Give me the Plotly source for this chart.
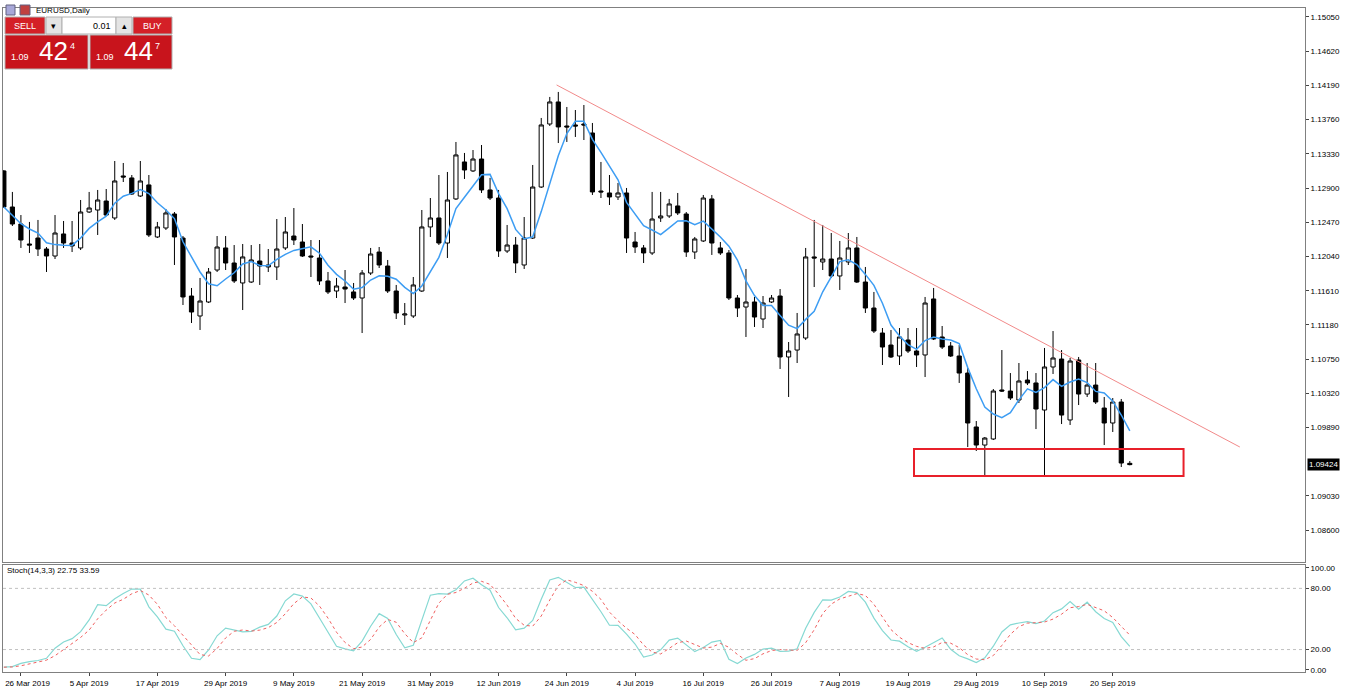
import numpy as np
import pandas as pd
import plotly.graph_objects as go

# ---- data (EURUSD daily) ----
start_date = "2019-03-22"
opens = [1.13115, 1.12662, 1.12448, 1.12197, 1.12272, 1.12134, 1.12046, 1.12323, 1.12209, 1.12147,
         1.12599, 1.12624, 1.12737, 1.12524, 1.13052, 1.13027, 1.12800, 1.12939, 1.12285, 1.12398,
         1.12574, 1.12272, 1.11543, 1.11292, 1.11468, 1.11870, 1.12147, 1.11958, 1.11707, 1.11719,
         1.11983, 1.11908, 1.11908, 1.12147, 1.12297, 1.12222, 1.12046, 1.12021, 1.11732, 1.11606,
         1.11656, 1.11594, 1.11518, 1.11832, 1.12096, 1.11920, 1.11606, 1.11304, 1.11292, 1.11606,
         1.12411, 1.12524, 1.12209, 1.12763, 1.13228, 1.13115, 1.13265, 1.12876, 1.12775, 1.12109,
         1.12184, 1.11933, 1.12272, 1.12913, 1.13705, 1.13982, 1.13680, 1.13693, 1.13705, 1.13592,
         1.12863, 1.12838, 1.12788, 1.12838, 1.12222, 1.12147, 1.12084, 1.12524, 1.12549, 1.12675,
         1.12574, 1.12096, 1.12235, 1.12763, 1.12147, 1.12084, 1.11518, 1.11405, 1.11468, 1.11254,
         1.11468, 1.11543, 1.10777, 1.10864, 1.11015, 1.12034, 1.11971, 1.12008, 1.11795, 1.11971,
         1.12147, 1.11719, 1.11392, 1.11078, 1.10927, 1.10789, 1.10990, 1.10852, 1.10802, 1.11506,
         1.11028, 1.10915, 1.10789, 1.10575, 1.09897, 1.09670, 1.09746, 1.10362, 1.10349, 1.10236,
         1.10487, 1.10450, 1.10110, 1.10651, 1.10751, 1.09985, 1.10739, 1.10311, 1.10424, 1.10135,
         1.09947, 1.10211, 1.09440]
highs = [1.13127, 1.12851, 1.12561, 1.12474, 1.12499, 1.12159, 1.12561, 1.12486, 1.12486, 1.12750,
         1.12851, 1.12876, 1.12888, 1.13240, 1.13215, 1.13064, 1.13240, 1.13064, 1.12474, 1.12637,
         1.12599, 1.12297, 1.11644, 1.11770, 1.11895, 1.12297, 1.12297, 1.12184, 1.12197, 1.12184,
         1.12197, 1.12134, 1.12511, 1.12536, 1.12649, 1.12448, 1.12247, 1.12247, 1.11845, 1.11770,
         1.11870, 1.11707, 1.11870, 1.12147, 1.12159, 1.11996, 1.11682, 1.11455, 1.11782, 1.12624,
         1.12775, 1.13064, 1.13102, 1.13479, 1.13341, 1.13378, 1.13441, 1.13027, 1.12876, 1.12436,
         1.12285, 1.12536, 1.13190, 1.13781, 1.14045, 1.14108, 1.13919, 1.13881, 1.13944, 1.13718,
         1.13228, 1.13064, 1.12964, 1.12901, 1.12348, 1.12184, 1.12851, 1.12851, 1.12763, 1.12838,
         1.12599, 1.12285, 1.12813, 1.12813, 1.12222, 1.12121, 1.11556, 1.11883, 1.11531, 1.11543,
         1.11556, 1.11631, 1.10965, 1.11330, 1.12147, 1.12499, 1.12436, 1.12335, 1.12235, 1.12335,
         1.12285, 1.11908, 1.11594, 1.11141, 1.11116, 1.11141, 1.11141, 1.11141, 1.11531, 1.11644,
         1.11166, 1.10965, 1.10927, 1.10638, 1.09972, 1.09771, 1.10374, 1.10864, 1.10575, 1.10701,
         1.10600, 1.10575, 1.10890, 1.11103, 1.10864, 1.10764, 1.10777, 1.10701, 1.10701, 1.10274,
         1.10261, 1.10249, 1.09469]
lows = [1.12649, 1.12423, 1.12147, 1.12084, 1.12046, 1.11845, 1.12008, 1.12147, 1.12096, 1.12121,
        1.12587, 1.12310, 1.12549, 1.12499, 1.12976, 1.12813, 1.12788, 1.12285, 1.12272, 1.12373,
        1.11933, 1.11430, 1.11204, 1.11116, 1.11455, 1.11845, 1.11870, 1.11707, 1.11367, 1.11707,
        1.11682, 1.11845, 1.11744, 1.12121, 1.12184, 1.12034, 1.11782, 1.11682, 1.11568, 1.11518,
        1.11455, 1.11493, 1.11078, 1.11807, 1.11895, 1.11581, 1.11254, 1.11179, 1.11267, 1.11594,
        1.12285, 1.12184, 1.12021, 1.12750, 1.13014, 1.13102, 1.12838, 1.12750, 1.12034, 1.12084,
        1.11832, 1.11883, 1.12260, 1.12901, 1.13680, 1.13466, 1.13479, 1.13542, 1.13504, 1.12813,
        1.12775, 1.12687, 1.12750, 1.12084, 1.12084, 1.11958, 1.12059, 1.12474, 1.12524, 1.12561,
        1.12034, 1.12008, 1.12222, 1.12059, 1.12059, 1.11493, 1.11279, 1.11028, 1.11154, 1.11141,
        1.11455, 1.10626, 1.10274, 1.10701, 1.10990, 1.11656, 1.11870, 1.11770, 1.11619, 1.11933,
        1.11707, 1.11330, 1.11078, 1.10676, 1.10764, 1.10676, 1.10827, 1.10651, 1.10525, 1.10990,
        1.10877, 1.10777, 1.10450, 1.09645, 1.09595, 1.09268, 1.09733, 1.10337, 1.10236, 1.10198,
        1.10424, 1.09871, 1.09268, 1.10563, 1.09934, 1.09922, 1.10173, 1.10274, 1.10186, 1.09670,
        1.09834, 1.09394, 1.09415]
closes = [1.12662, 1.12448, 1.12247, 1.12184, 1.12134, 1.12046, 1.12335, 1.12209, 1.12172, 1.12599,
          1.12649, 1.12750, 1.12561, 1.12989, 1.13039, 1.12825, 1.12989, 1.12310, 1.12411, 1.12587,
          1.12285, 1.11531, 1.11342, 1.11480, 1.11845, 1.12159, 1.11958, 1.11732, 1.12034, 1.11996,
          1.11920, 1.11933, 1.12134, 1.12348, 1.12247, 1.12046, 1.12034, 1.11732, 1.11594, 1.11669,
          1.11631, 1.11518, 1.11832, 1.12071, 1.11933, 1.11606, 1.11330, 1.11317, 1.11682, 1.12411,
          1.12524, 1.12209, 1.12750, 1.13316, 1.13127, 1.13265, 1.12876, 1.12775, 1.12109, 1.12184,
          1.11958, 1.12272, 1.12913, 1.13693, 1.13982, 1.13668, 1.13668, 1.13680, 1.13693, 1.12851,
          1.12851, 1.12788, 1.12838, 1.12272, 1.12159, 1.12084, 1.12511, 1.12549, 1.12700, 1.12587,
          1.12096, 1.12260, 1.12775, 1.12209, 1.12084, 1.11518, 1.11392, 1.11468, 1.11279, 1.11455,
          1.11518, 1.10777, 1.10852, 1.11066, 1.12034, 1.12021, 1.12008, 1.11795, 1.12021, 1.12147,
          1.11719, 1.11392, 1.11103, 1.10902, 1.10777, 1.11028, 1.10852, 1.10802, 1.11455, 1.11003,
          1.10902, 1.10789, 1.10575, 1.09947, 1.09670, 1.09758, 1.10349, 1.10349, 1.10261, 1.10475,
          1.10450, 1.10123, 1.10651, 1.10764, 1.10047, 1.10726, 1.10311, 1.10424, 1.10211, 1.09947,
          1.10211, 1.09444, 1.09424]

price_ticks = [1.15050, 1.14620, 1.14190, 1.13760, 1.13330, 1.12900, 1.12470, 1.12040,
               1.11610, 1.11180, 1.10750, 1.10320, 1.09890, 1.09030, 1.08600]
stoch_ticks = [100, 80, 20, 0]
last_price = 1.09424
trend_start = (64.8, 1.14196)
trend_end = (144.9, 1.09645)
support_box = (106.7, 138.3, 1.09281, 1.09620)

# ---- derived series ----
df = pd.DataFrame({"open": opens, "high": highs, "low": lows, "close": closes})
df["date"] = pd.bdate_range(start_date, periods=len(df))
idx = np.arange(len(df))
ma = df["close"].rolling(5, min_periods=1).mean()
ll = df["low"].rolling(14, min_periods=1).min()
hh = df["high"].rolling(14, min_periods=1).max()
k = 100 * (df["close"] - ll).rolling(3, min_periods=1).sum() / (hh - ll).rolling(3, min_periods=1).sum()
d = k.rolling(3, min_periods=1).mean()

tick_idx = list(range(2, len(df), 8))
tick_txt = [df["date"][i].strftime("%-d %b %Y") for i in tick_idx]
tick_txt[0] = "\u2007\u2007\u2007" + tick_txt[0]  # first label sits against the left edge

W, H = 1347, 690
ML, MR, MT, MB = 3, 42, 8, 18
PW, PH = W - ML - MR, H - MT - MB


def px(x):
    return (x - ML) / PW


def py(y):
    return (H - MB - y) / PH


fig = go.Figure()
fig.add_trace(go.Candlestick(
    x=idx, open=df["open"], high=df["high"], low=df["low"], close=df["close"],
    increasing=dict(line=dict(color="#000000", width=1), fillcolor="#ffffff"),
    decreasing=dict(line=dict(color="#000000", width=1), fillcolor="#000000"),
    whiskerwidth=0, showlegend=False, xaxis="x", yaxis="y", hoverinfo="skip",
))
fig.add_trace(go.Scatter(x=idx, y=ma, mode="lines", line=dict(color="#3d9df3", width=1.5),
                         showlegend=False, xaxis="x", yaxis="y"))
fig.add_trace(go.Scatter(x=idx, y=k, mode="lines", line=dict(color="#86d9d3", width=1.2),
                         showlegend=False, xaxis="x2", yaxis="y2"))
fig.add_trace(go.Scatter(x=idx, y=d, mode="lines", line=dict(color="#f06060", width=1, dash="dot"),
                         showlegend=False, xaxis="x2", yaxis="y2"))

xr = [-0.1, PW / 8.53 - 0.1]
axfont = dict(family="Liberation Sans", size=8, color="#000000")
fig.update_layout(
    width=W, height=H, paper_bgcolor="white", plot_bgcolor="white",
    margin=dict(l=ML, r=MR, t=MT, b=MB, autoexpand=False),
    xaxis=dict(domain=[0, 1], range=xr, showticklabels=False, showgrid=False, zeroline=False,
               automargin=False, showline=True, mirror=True, linecolor="#808080",
               rangeslider=dict(visible=False)),
    yaxis=dict(domain=[(672 - 562) / PH, 1], range=[1.08200, 1.15163], side="right",
               tickvals=price_ticks, tickformat=".5f", ticks="outside", ticklen=3,
               tickfont=axfont, showgrid=False, zeroline=False, automargin=False,
               showline=True, mirror=True, linecolor="#808080"),
    xaxis2=dict(domain=[0, 1], range=xr, anchor="y2", tickvals=tick_idx, ticktext=tick_txt,
                ticks="outside", ticklen=3, tickfont=axfont, showgrid=False, zeroline=False,
                ticklabeloverflow="allow", automargin=False,
                showline=True, mirror=True, linecolor="#808080"),
    yaxis2=dict(domain=[0, (672 - 565) / PH], range=[-2.0, 102.9], side="right", anchor="x2",
                tickvals=stoch_ticks, tickformat=".2f", ticks="outside", ticklen=3,
                tickfont=axfont, showgrid=False, zeroline=False, automargin=False,
                showline=True, mirror=True, linecolor="#808080"),
)

# stochastic levels
for lvl in (80, 20):
    fig.add_shape(type="line", xref="x2 domain", yref="y2", x0=0, x1=1, y0=lvl, y1=lvl,
                  line=dict(color="#c0c0c0", width=1, dash="dot"))
# trend line and support box
fig.add_shape(type="line", xref="x", yref="y", x0=trend_start[0], y0=trend_start[1],
              x1=trend_end[0], y1=trend_end[1], line=dict(color="#f28a8a", width=1))
fig.add_shape(type="rect", xref="x", yref="y", x0=support_box[0], x1=support_box[1],
              y0=support_box[2], y1=support_box[3], line=dict(color="#e8202a", width=2))

# current price tag
fig.add_annotation(xref="paper", yref="y", x=1.0, y=last_price, xanchor="left", yanchor="middle",
                   text=f"{last_price:.5f}", showarrow=False, bgcolor="#000000",
                   font=dict(family="Liberation Sans", size=8, color="white"), borderpad=1, xshift=2)


def label(x, y, text, size, color, xanchor="center", family="Liberation Sans"):
    fig.add_annotation(xref="paper", yref="paper", x=px(x), y=py(y), text=text, showarrow=False,
                       xanchor=xanchor, yanchor="middle", font=dict(family=family, size=size, color=color))


# stoch caption and header
label(5, 570, "Stoch(14,3,3) 22.75 33.59", 8, "#000000", xanchor="left")
label(34, 10, "EURUSD,Daily", 8, "#000000", xanchor="left")
for x0, x1, c in ((6, 15, "#a8a8d8"), (20, 30, "#c04040")):
    fig.add_shape(type="rect", xref="paper", yref="paper", x0=px(x0), x1=px(x1), y0=py(15), y1=py(5),
                  line=dict(color="#606080", width=1), fillcolor=c)

# one-click trading panel
red = "#d42027"
panel = [(5, 45, 17, 34, red), (46, 62, 17, 34, "#e4e4e4"), (62, 116, 17, 34, "white"),
         (116, 132, 17, 34, "#e4e4e4"), (133, 172, 17, 34, red),
         (5, 88, 35, 69, "#c8141c"), (90, 172, 35, 69, "#c8141c")]
for x0, x1, y0, y1, c in panel:
    fig.add_shape(type="rect", xref="paper", yref="paper", x0=px(x0), x1=px(x1), y0=py(y1), y1=py(y0),
                  line=dict(color="#b0b0b0", width=1), fillcolor=c)
label(25, 26, "SELL", 9, "white")
label(152, 26, "BUY", 9, "white")
label(113, 26, "0.01", 9, "#000000", xanchor="right")
label(54, 26, "▾", 9, "#000000", family="DejaVu Sans")
label(124, 26, "▴", 9, "#000000", family="DejaVu Sans")
for x_small, x_big, x_sup, big, small in ((20, 54, 72, "42", "4"), (105, 138, 157, "44", "7")):
    label(x_small, 57, "1.09", 9, "white")
    label(x_big, 51, big, 26, "white")
    label(x_sup, 46, small, 9, "white")

# page has a default body margin; remove it so the chart fills the window like the screenshot
fig.write_html("out.html", config={"displayModeBar": False},
               post_script="document.body.style.margin='0';")
